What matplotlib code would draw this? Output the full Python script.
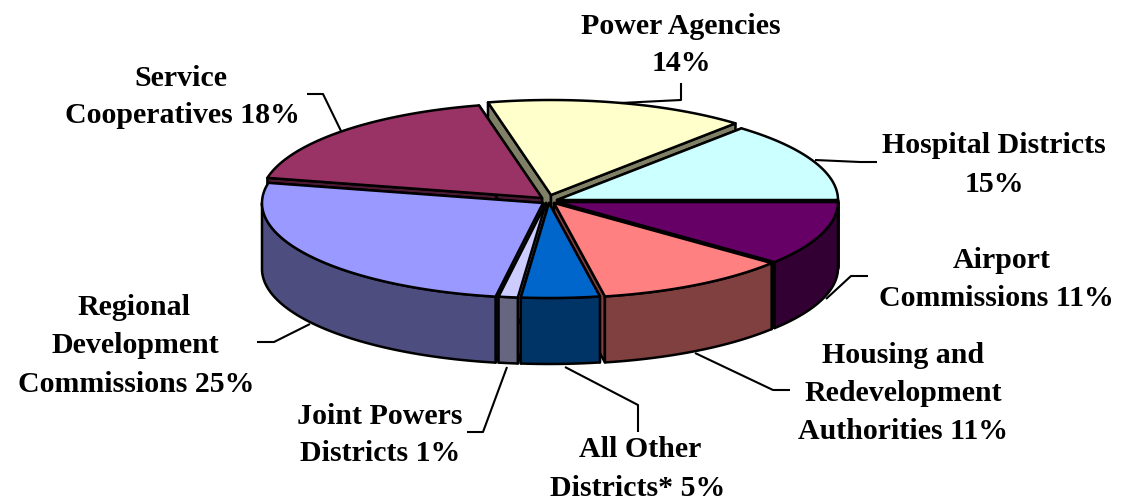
import numpy as np
import matplotlib
matplotlib.use("Agg")
import matplotlib.pyplot as plt
from matplotlib.patches import Polygon

plt.rcParams['font.family'] = ['Liberation Serif', 'DejaVu Serif']

names = ["Airport", "Housing", "All Other", "Joint Powers", "Regional", "Service", "Power", "Hospital"]
shares = [10.9, 11.2, 4.5, 1.1, 25.7, 18.0, 15.0, 13.6]
top_colors = ["#660066", "#FF8080", "#0066CC", "#CCCCFF", "#9999FF", "#993366", "#FFFFCC", "#CCFFFF"]
wall_colors = ["#330033", "#804040", "#003366", "#666680", "#4D4D80", "#4D1A33", "#808066", "#668080"]

# how far each slice is pulled out of the centre, pixels
pull_x = [7, 4, -1, -4, -7, -8, 1, 7]
pull_y = [2, 3, 3, 3, 3, -2, -5, 0]

# text, x centre, y of baseline
label_lines = [
    ("Power Agencies", 681, 34), ("14%", 681, 71),
    ("Hospital Districts", 994, 153), ("15%", 994, 192),
    ("Airport", 1002, 268), ("Commissions 11%", 996, 306),
    ("Housing and", 903, 363), ("Redevelopment", 903, 401), ("Authorities 11%", 903, 439),
    ("All Other", 640, 457), ("Districts* 5%", 638, 496),
    ("Joint Powers", 380, 424), ("Districts 1%", 380, 461),
    ("Regional", 134, 315), ("Development", 135, 353), ("Commissions 25%", 136, 392),
    ("Service", 181, 86), ("Cooperatives 18%", 182, 123),
]

leader_x = [[681, 681, 620], [877, 860, 815], [868, 851, 826], [790, 773, 695], [638, 638, 565],
            [467, 483, 507], [257, 274, 310], [307, 323, 341]]
leader_y = [[83, 100, 103], [162, 162, 160], [276, 276, 299], [390, 390, 353], [432, 405, 367],
            [432, 432, 367], [342, 342, 324], [94, 94, 131]]

cx, cy = 550, 200
rx, ry = 281, 95
depth = 66
lw = 1.8

fig = plt.figure(figsize=(11.23, 5), dpi=100)
ax = fig.add_axes([0, 0, 1, 1])
ax.set_xlim(0, 1123)
ax.set_ylim(500, 0)
ax.axis("off")

edges = np.radians(np.concatenate([[0], np.cumsum(shares)]) * 3.6)
mids = (edges[:-1] + edges[1:]) / 2


def arc(a, b, ox, oy):
    t = np.linspace(a, b, max(int((b - a) * 60), 2))
    return np.column_stack([ox + rx * np.cos(t), oy + ry * np.sin(t)])


# back slices first so the front ones paint over them
for i in np.argsort(np.sin(mids)):
    a, b = edges[i], edges[i + 1]
    ox = cx + pull_x[i]
    oy = cy + pull_y[i]
    rim = arc(a, b, ox, oy)
    down = np.array([0, depth])
    kw = dict(edgecolor="black", linewidth=lw, joinstyle="round", zorder=2)

    # cut faces
    for p in (rim[0], rim[-1]):
        q = np.array([[ox, oy], p, p + down, [ox, oy + depth]])
        ax.add_patch(Polygon(q, facecolor=wall_colors[i], **kw))

    # outer wall, only the part facing the viewer
    lo, hi = max(a, 0), min(b, np.pi)
    if hi > lo:
        front = arc(lo, hi, ox, oy)
        ax.add_patch(Polygon(np.vstack([front, front[::-1] + down]), facecolor=wall_colors[i], **kw))

    ax.add_patch(Polygon(np.vstack([[ox, oy], rim]), facecolor=top_colors[i], **kw))

for xs, ys in zip(leader_x, leader_y):
    ax.plot(xs, ys, color="black", lw=1.5, zorder=3, solid_capstyle="butt")

for txt, x, y in label_lines:
    ax.text(x, y, txt, ha="center", va="baseline", fontsize=21.5, fontweight="bold", color="black", zorder=4)

fig.savefig("out.png", dpi=100, facecolor="white")
